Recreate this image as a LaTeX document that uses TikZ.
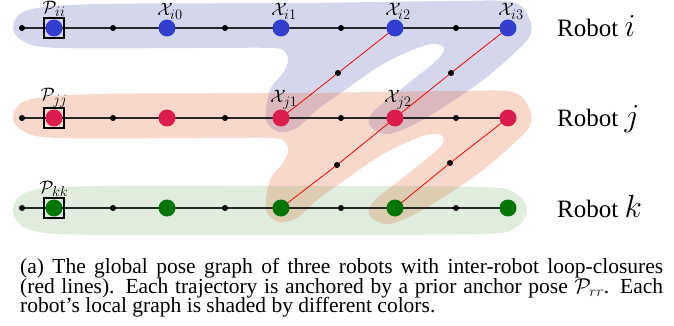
\RequirePackage{fix-cm}
\documentclass[tikz,border=0pt]{standalone}
\usepackage[no-math]{fontspec}
\setmainfont{Liberation Serif}
\usetikzlibrary{positioning, backgrounds}
\pgfdeclarelayer{shading}
\pgfsetlayers{shading,background,main}
\newcommand{\lsub}[1]{_{\mbox{\fontsize{14.5}{14.5}\selectfont$#1$}}}

\definecolor{iblue}{RGB}{50,62,208}
\definecolor{jred}{RGB}{220,28,76}
\definecolor{kgreen}{RGB}{0,118,0}
\definecolor{ishade}{RGB}{40,50,160}
\definecolor{jshade}{RGB}{232,100,52}
\definecolor{kshade}{RGB}{70,145,50}

\begin{document}
\begin{tikzpicture}[x=1pt, y=-1pt,
  pose/.style={circle, inner sep=0pt, minimum size=17pt},
  dot/.style={circle, fill=black, inner sep=0pt, minimum size=6pt},
  prior/.style={draw, line width=1.7pt, inner sep=0pt, minimum size=20pt},
  odom/.style={line width=1.2pt, black!85},
  closure/.style={line width=0.8pt, red},
  lbl/.style={inner sep=0pt, font=\fontsize{18}{18}\selectfont},
  robot/.style={anchor=base west, inner sep=0pt, font=\fontsize{25}{25}\selectfont},
  caption/.style={anchor=north west, inner sep=0pt, text width=643pt, align=justify,
                  font=\fontsize{21.5}{19.8}\selectfont},
  ireg/.style={fill=ishade, fill opacity=0.2},
  jreg/.style={fill=jshade, fill opacity=0.25},
  kreg/.style={fill=kshade, fill opacity=0.17},
  pics/finger/.style={code={
    \fill[#1] plot[smooth cycle, tension=0.55] coordinates {
      (13,0) (28,-18) (100,-24) (300,-25) (450,-27) (512,-26) (529,-10) (530,8)
      (510,29) (483,52) (450,75) (417,95) (388,106) (370,98) (373,84) (405,58)
      (437,32) (444,21) (437,16) (420,19) (383,36) (345,62) (317,82) (297,100)
      (279,104) (266,92) (270,62) (283,45) (288,33) (285,24) (272,20) (200,20)
      (60,20) (25,14)};
  }}
]
  \useasboundingbox (0,0) rectangle (674,326);

  % One row of poses per robot
  \foreach \r/\y/\c in {i/28/iblue, j/118/jred, k/208/kgreen} {
    \node[dot] (\r a) at (22,\y) {};
    \node[pose, fill=\c] (p\r) at (54,\y) {};
    \node[prior] (P\r) at (54,\y) {};
    \node[dot] (\r b) at (113,\y) {};
    \node[pose, fill=\c] (x\r 0) at (167,\y) {};
    \node[dot] (\r c) at (225,\y) {};
    \node[pose, fill=\c] (x\r 1) at (281,\y) {};
    \node[dot] (\r d) at (341,\y) {};
    \node[pose, fill=\c] (x\r 2) at (395,\y) {};
    \node[dot] (\r e) at (456,\y) {};
    \node[pose, fill=\c] (x\r 3) at (508,\y) {};
    \begin{pgfonlayer}{background}
      \draw[odom] (\r a.center) -- (p\r.center) -- (\r b.center) -- (x\r 0.center)
        -- (\r c.center) -- (x\r 1.center) -- (\r d.center) -- (x\r 2.center)
        -- (\r e.center) -- (x\r 3.center);
    \end{pgfonlayer}
  }

  % Labels
  \node[lbl, above=0pt of Pi] {$\mathcal{P}\lsub{ii}$};
  \node[lbl, above=0pt of Pj] {$\mathcal{P}\lsub{jj}$};
  \node[lbl, above=0pt of Pk] {$\mathcal{P}\lsub{kk}$};
  \node[lbl, above=0pt of xi0, xshift=3pt] {$\mathcal{X}\lsub{i0}$};
  \node[lbl, above=0pt of xi1, xshift=3pt] {$\mathcal{X}\lsub{i1}$};
  \node[lbl, above=0pt of xi2, xshift=3pt] {$\mathcal{X}\lsub{i2}$};
  \node[lbl, above=0pt of xi3, xshift=3pt] {$\mathcal{X}\lsub{i3}$};
  \node[lbl, above=0pt of xj1, xshift=3pt] {$\mathcal{X}\lsub{j1}$};
  \node[lbl, above=0pt of xj2, xshift=3pt] {$\mathcal{X}\lsub{j2}$};

  % Inter-robot loop closures
  \node[dot] (l1) at (338,73) {};
  \node[dot] (l2) at (451,73) {};
  \node[dot] (l3) at (337,165) {};
  \node[dot] (l4) at (450,163) {};
  \begin{pgfonlayer}{background}
    \draw[closure] (xj1.center) -- (l1.center) -- (xi2.center);
    \draw[closure] (xj2.center) -- (l2.center) -- (xi3.center);
    \draw[closure] (xk1.center) -- (l3.center) -- (xj2.center);
    \draw[closure] (xk2.center) -- (l4.center) -- (xj3.center);
  \end{pgfonlayer}

  % Robot names
  \node[robot] (ri) at (557,37) {Robot {\fontsize{32}{32}\selectfont$i$}};
  \node[robot] (rj) at (557,127) {Robot {\fontsize{32}{32}\selectfont$j$}};
  \node[robot] (rk) at (557,217) {Robot {\fontsize{32}{32}\selectfont$k$}};

  % Shaded local graphs
  \begin{pgfonlayer}{shading}
    \pic at (0,28) {finger=ireg};
    \pic at (0,118) {finger=jreg};
    \fill[kreg] plot[smooth cycle, tension=0.55] coordinates {
      (13,210) (30,191) (100,186) (300,186) (480,187) (515,193) (527,210)
      (515,228) (480,234) (300,235) (100,235) (30,230)};
  \end{pgfonlayer}

  \node[caption] (cap) at (20,258) {(a) The global pose graph of three robots with
    inter-robot loop-closures\linebreak (red lines). Each trajectory is anchored by a
    prior anchor pose $\mathcal{P}_{rr}$. Each\linebreak robot's local graph is shaded
    by different colors.};
\end{tikzpicture}
\end{document}
